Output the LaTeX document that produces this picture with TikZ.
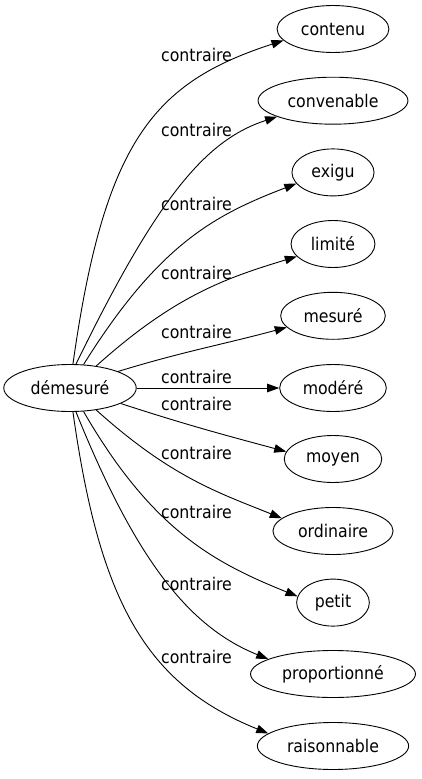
\documentclass[tikz,border=0pt]{standalone}
\usepackage{fontspec}
\setmainfont{DejaVu Sans Condensed}
\usetikzlibrary{arrows.meta,shapes.geometric}
\tikzset{
  word/.style={ellipse,draw,line width=0.9pt,inner xsep=7.5pt,inner ysep=0pt,
    minimum height=47pt,font=\fontsize{17.5}{20}\selectfont},
  lab/.style={anchor=base west,inner sep=0pt,font=\fontsize{17.5}{20}\selectfont},
  rel/.style={line width=0.9pt,-{Triangle[length=12pt,width=8.5pt]}}
}
\begin{document}
\begin{tikzpicture}[x=1pt,y=1pt]
\useasboundingbox (0,0) rectangle (421,-779);
\node[word] (dem) at (70,-388) {démesuré};
\node[word] (n1) at (333,-29) {contenu};
\node[word] (n2) at (333,-100.7) {convenable};
\node[word] (n3) at (333,-172.4) {exigu};
\node[word] (n4) at (333,-244) {limité};
\node[word] (n5) at (333,-315.8) {mesuré};
\node[word] (n6) at (333,-388) {modéré};
\node[word] (n7) at (333,-459) {moyen};
\node[word] (n8) at (333,-531) {ordinaire};
\node[word] (n9) at (333,-602.6) {petit};
\node[word] (n10) at (333,-674) {proportionné};
\node[word] (n11) at (333,-746) {raisonnable};

\draw[rel] (dem.83) to[out=82,in=198,out looseness=1.5,in looseness=0.9] (n1.193);
\draw[rel] (dem.76) to[out=64,in=198,out looseness=1.5,in looseness=0.6] (n2.196);
\draw[rel] (dem.60) to[out=58,in=201,out looseness=1.3,in looseness=0.8] (n3.197);
\draw[rel] (dem.40) to[out=42,in=197,out looseness=1.2,in looseness=0.8] (n4.199);
\draw[rel] (dem.19) to[out=17,in=195] (n5.194);
\draw[rel] (dem) -- (n6);
\draw[rel] (dem.-17) to[out=-18,in=165] (n7.171);
\draw[rel] (dem.-40) to[out=-42,in=158,out looseness=1.2,in looseness=0.8] (n8.166);
\draw[rel] (dem.-60) to[out=-60,in=158,out looseness=1.25,in looseness=0.8] (n9.170);
\draw[rel] (dem.-76) to[out=-68,in=158,out looseness=1.3,in looseness=0.7] (n10.167);
\draw[rel] (dem.-83) to[out=-82,in=158,out looseness=1.3,in looseness=0.9] (n11.169);

\node[lab] (l1) at (161,-61) {contraire};
\node[lab] (l2) at (161,-136) {contraire};
\node[lab] (l3) at (161,-210) {contraire};
\node[lab] (l4) at (161,-279) {contraire};
\node[lab] (l5) at (161,-338) {contraire};
\node[lab] (l6) at (161,-383) {contraire};
\node[lab] (l7) at (161,-410) {contraire};
\node[lab] (l8) at (161,-459) {contraire};
\node[lab] (l9) at (161,-518) {contraire};
\node[lab] (l10) at (161,-590) {contraire};
\node[lab] (l11) at (161,-663) {contraire};
\end{tikzpicture}
\end{document}
